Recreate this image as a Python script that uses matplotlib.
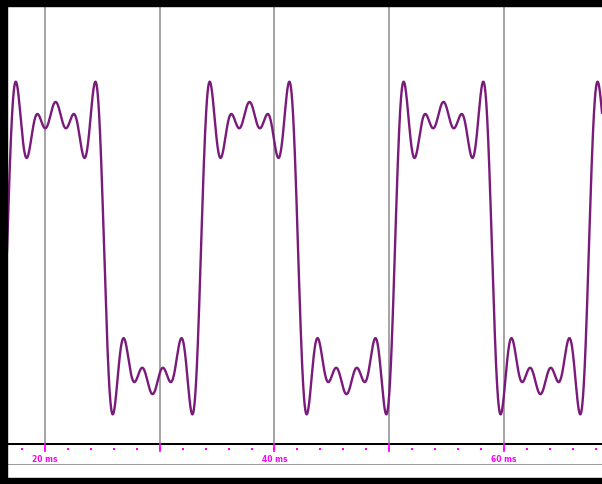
import numpy as np
import matplotlib
matplotlib.use('Agg')
from matplotlib import pyplot as plt
from matplotlib.patches import Rectangle

# square wave built from odd harmonics (weights fitted to the ripple heights)
harmonics = [1, 3, 5, 7, 9]
weights = [0.972, 0.283, 0.254, 0.209, 0.157]
period_ms = 16.9
rise_ms = 33.6

major_ticks = [20, 30, 40, 50, 60]
tick_labels = {20: '20 ms', 40: '40 ms', 60: '60 ms'}
minor_ticks = list(range(18, 70, 2))

t_min, t_max = 16.69, 68.54

t = np.linspace(t_min, t_max, 4000)
w = 2 * np.pi / period_ms
y = np.zeros_like(t)
for h, a in zip(harmonics, weights):
    y += a * np.sin(h * w * (t - rise_ms))

W, H = 602, 484
fig = plt.figure(figsize=(W / 100, H / 100), dpi=100)
fig.patch.set_facecolor('white')

# main trace area
ax = fig.add_axes([7 / W, 1 - 443 / H, 1 - 7 / W, (443 - 6) / H])
ax.set_xlim(t_min, t_max)
ax.set_ylim(-1.189, 1.476)
for x in major_ticks:
    ax.axvline(x, color='#8c8c8c', lw=1.1, zorder=1)
ax.plot(t, y, color='#7a1a7a', lw=1.7, zorder=3)
ax.set_xticks([])
ax.set_yticks([])
for s in ax.spines.values():
    s.set_visible(False)

# time ruler below
rl = fig.add_axes([7 / W, 1 - 465 / H, 1 - 7 / W, 22 / H])
rl.set_xlim(t_min, t_max)
rl.set_ylim(0, 22)
rl.axhline(22, color='black', lw=2.2)
rl.axhline(0, color='#9a9a9a', lw=1.4)
rl.plot(minor_ticks, [16] * len(minor_ticks), ls='none', marker='s',
        ms=1.9, color='#ff00ff', mew=0)
for x in major_ticks:
    rl.plot([x, x], [22, 14], color='#ff00ff', lw=1.3)
for x, lab in tick_labels.items():
    rl.text(x, 6, lab, color='#ff00ff', fontsize=5.5, fontweight='bold',
            ha='center', va='center')
rl.set_xticks([])
rl.set_yticks([])
for s in rl.spines.values():
    s.set_visible(False)

# black frame bands
fig.patches.append(Rectangle((0, 0), 7 / W, 1, transform=fig.transFigure,
                             color='black', zorder=10))
fig.patches.append(Rectangle((0, 1 - 6 / H), 1, 6 / H, transform=fig.transFigure,
                             color='black', zorder=10))
fig.patches.append(Rectangle((0, 0), 1, 6 / H, transform=fig.transFigure,
                             color='black', zorder=10))

fig.savefig('out.png', dpi=100)
